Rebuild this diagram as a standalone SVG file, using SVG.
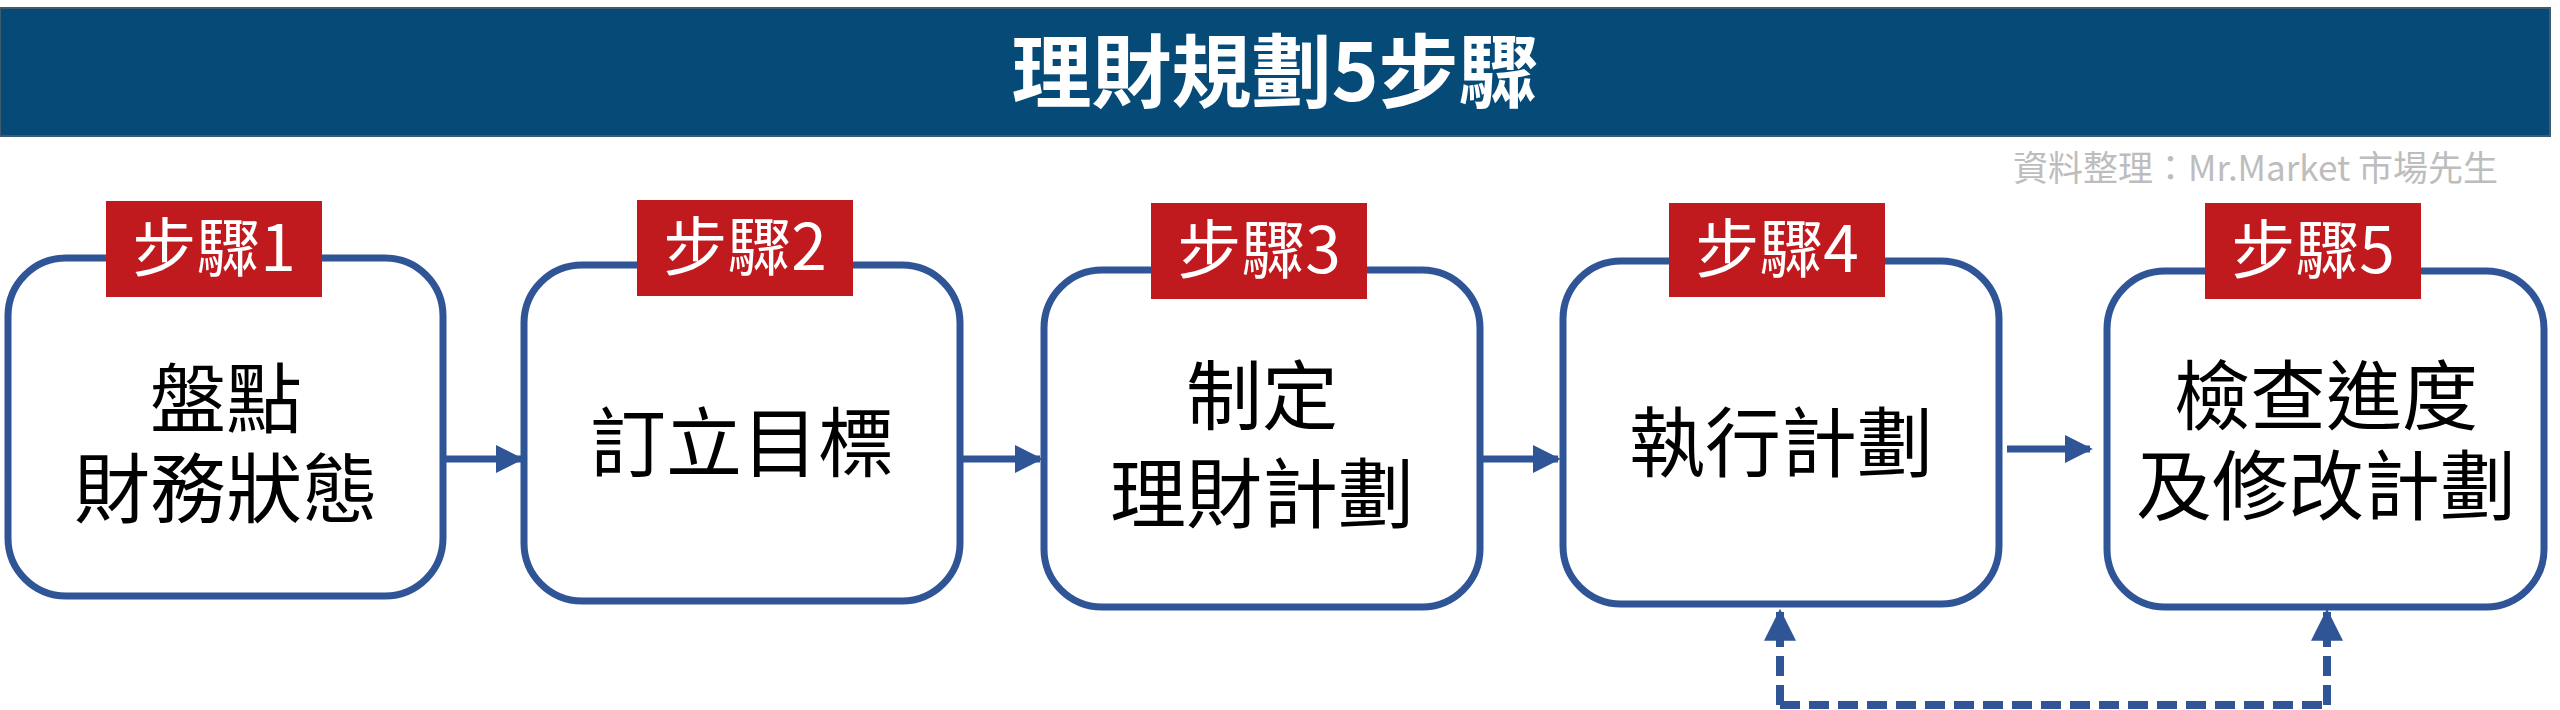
<svg xmlns="http://www.w3.org/2000/svg" width="2560" height="710" viewBox="0 0 2560 710">
<style>
.box{fill:#fff;stroke:#2f5597;stroke-width:7}
.lab{fill:#c0191e}
.lt{font-family:"Noto Sans CJK TC","Noto Sans CJK SC",sans-serif;font-size:64px;fill:#fff;text-anchor:middle}
.bt{font-family:"Noto Sans CJK TC","Noto Sans CJK SC",sans-serif;font-size:76px;fill:#000;text-anchor:middle}
.ar{stroke:#2f5597;stroke-width:7;fill:none}
.da{stroke:#2f5597;stroke-width:8;fill:none;stroke-dasharray:20 9}
</style>
<defs>
<marker id="ah" viewBox="0 0 10 10" refX="9" refY="5" markerWidth="4" markerHeight="4" markerUnits="strokeWidth" orient="auto"><path d="M0,0L10,5L0,10z" fill="#2f5597"/></marker>
</defs>
<rect width="2560" height="710" fill="#fff"/>
<g id="header">
<rect x="0" y="8" width="2550" height="128" fill="#064a77" stroke="#3d5a70" stroke-width="2"/>
<text x="1275" y="101" font-family="'Noto Sans CJK TC','Noto Sans CJK SC',sans-serif" font-size="80" font-weight="bold" fill="#fff" text-anchor="middle">理財規劃5步驟</text>
</g>
<text x="2498" y="181" font-family="'Noto Sans CJK TC','Noto Sans CJK SC',sans-serif" font-size="35" fill="#bdbdbd" text-anchor="end">資料整理：Mr.Market 市場先生</text>
<g id="connectors">
<line class="ar" x1="446" y1="459" x2="521" y2="459" marker-end="url(#ah)"/>
<line class="ar" x1="963" y1="459" x2="1040" y2="459" marker-end="url(#ah)"/>
<line class="ar" x1="1483" y1="459" x2="1558" y2="459" marker-end="url(#ah)"/>
<line class="ar" x1="2007" y1="449" x2="2090" y2="449" marker-end="url(#ah)"/>
<path class="da" d="M1780,705 H2327"/>
<line class="da" x1="1780" y1="705" x2="1780" y2="612" marker-end="url(#ah)"/>
<line class="da" x1="2327" y1="705" x2="2327" y2="612" marker-end="url(#ah)"/>
</g>
<g id="step1">
<rect class="box" x="8" y="258" width="435" height="338" rx="58"/>
<rect class="lab" x="106" y="201" width="216" height="96"/>
<text class="lt" x="214" y="271">步驟1</text>
<text class="bt" x="226" y="427">盤點</text>
<text class="bt" x="226" y="517">財務狀態</text>
</g>
<g id="step2">
<rect class="box" x="524" y="265" width="436" height="336" rx="58"/>
<rect class="lab" x="637" y="200" width="216" height="96"/>
<text class="lt" x="745" y="270">步驟2</text>
<text class="bt" x="742" y="471">訂立目標</text>
</g>
<g id="step3">
<rect class="box" x="1044" y="270" width="436" height="337" rx="58"/>
<rect class="lab" x="1151" y="203" width="216" height="96"/>
<text class="lt" x="1259" y="273">步驟3</text>
<text class="bt" x="1262" y="424">制定</text>
<text class="bt" x="1262" y="522">理財計劃</text>
</g>
<g id="step4">
<rect class="box" x="1563" y="261" width="436" height="343" rx="58"/>
<rect class="lab" x="1669" y="203" width="216" height="94"/>
<text class="lt" x="1777" y="272">步驟4</text>
<text class="bt" x="1781" y="471">執行計劃</text>
</g>
<g id="step5">
<rect class="box" x="2107" y="271" width="437" height="336" rx="58"/>
<rect class="lab" x="2205" y="203" width="216" height="96"/>
<text class="lt" x="2313" y="273">步驟5</text>
<text class="bt" x="2326" y="424">檢查進度</text>
<text class="bt" x="2326" y="514">及修改計劃</text>
</g>
</svg>
